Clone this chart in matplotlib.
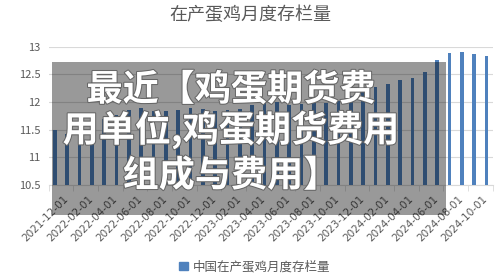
import numpy as np
import pandas as pd
import matplotlib
matplotlib.use('Agg')
import matplotlib.pyplot as plt
import matplotlib.patheffects as pe
import matplotlib.transforms as mtransforms
from matplotlib.patches import Rectangle

plt.rcParams['font.family'] = ['Noto Sans CJK SC', 'DejaVu Sans']

# monthly stock of laying hens (100 million birds), 2021-12 .. 2024-11
months = pd.date_range('2021-12-01', '2024-11-01', freq='MS').strftime('%Y-%m-%d').tolist()
stock = [11.49, 11.42, 11.55, 11.62, 11.70, 11.77, 11.86, 11.89, 11.83, 11.83,
         11.86, 11.90, 11.87, 11.83, 11.86, 11.88, 11.95, 11.99, 12.00, 11.95,
         11.96, 11.98, 11.99, 12.02, 12.10, 12.18, 12.27, 12.33, 12.40, 12.43,
         12.54, 12.76, 12.88, 12.90, 12.86, 12.84]
series_name = '中国在产蛋鸡月度存栏量'
title = '在产蛋鸡月度存栏量'
overlay_lines = ['最近【鸡蛋期货费', '用单位,鸡蛋期货费用', '组成与费用】']

grey = '#595959'
bar_color = '#4f81bd'

fig = plt.figure(figsize=(5, 2.78), dpi=100)
ax = fig.add_axes([0.0976, 0.3345, 0.888, 0.4975])

x = np.arange(len(stock))
ax.bar(x, stock, width=0.3, color=bar_color, zorder=3, label=series_name)

ax.set_ylim(10.5, 13)
ax.set_xlim(-0.5, len(stock) - 0.5)
ax.set_yticks([10.5, 11, 11.5, 12, 12.5, 13])
ax.set_yticklabels(['10.5', '11', '11.5', '12', '12.5', '13'])
ax.grid(axis='y', color='#d9d9d9', lw=0.8, zorder=0)
for s in ['top', 'right', 'left']:
    ax.spines[s].set_visible(False)
ax.spines['bottom'].set_color('#d9d9d9')
ax.tick_params(axis='y', length=0, labelsize=8, labelcolor=grey, pad=6)

ax.set_xticks(x[::2])
ax.set_xticklabels(months[::2], rotation=45, ha='right', rotation_mode='anchor',
                   fontsize=7.5, color=grey, family='DejaVu Sans')
ax.tick_params(axis='x', length=0, pad=6)
shift = mtransforms.ScaledTranslation(8 / 100, 0, fig.dpi_scale_trans)
for lbl in ax.get_xticklabels():
    lbl.set_transform(lbl.get_transform() + shift)
ax.set_xticks(np.arange(-0.5, len(stock), 2), minor=True)
ax.tick_params(axis='x', which='minor', length=4, color='#d9d9d9')

fig.text(0.5, 0.946, title, ha='center', va='center', fontsize=13, color=grey)

# legend
fig.legend(handles=[Rectangle((0, 0), 1, 1, color=bar_color)], labels=[series_name],
           loc='center', bbox_to_anchor=(0.51, 0.04), frameon=False, fontsize=9,
           handlelength=0.7, handleheight=0.7, handletextpad=0.4, labelcolor=grey)

# grey banner laid over the chart
fig.patches.append(Rectangle((0.104, 0.2266), 0.788, 0.55, transform=fig.transFigure,
                             facecolor='black', alpha=0.4, zorder=10))
for yy, line in zip([0.676, 0.532, 0.367], overlay_lines):
    fig.text(0.462, yy, line, ha='center', va='center', fontsize=26, fontweight='bold',
             color='white', zorder=11,
             path_effects=[pe.withStroke(linewidth=1.5, foreground='#666666')])

fig.savefig('out.png', dpi=100)
